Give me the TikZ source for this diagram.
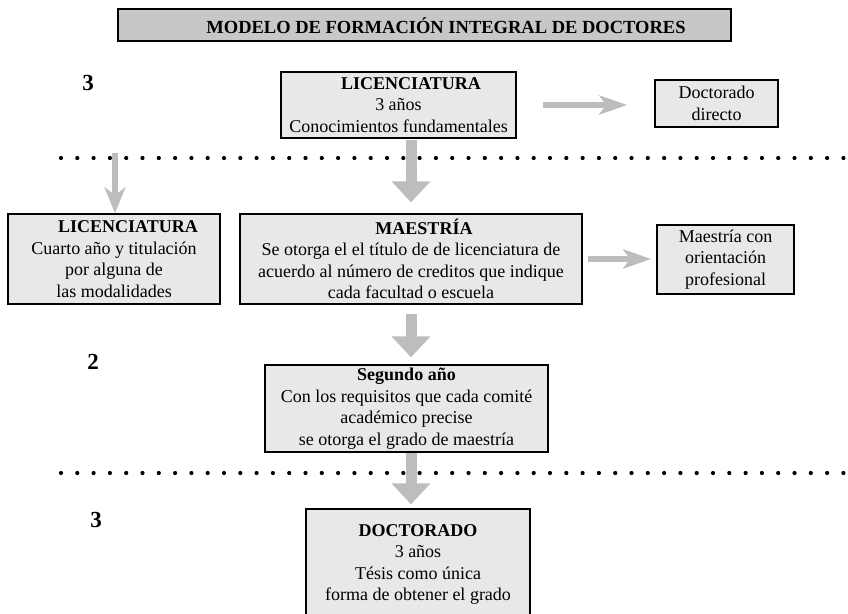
\documentclass[tikz,border=0pt]{standalone}
\usepackage{fontspec}
\setmainfont{Liberation Serif}
\usetikzlibrary{arrows.meta}
\definecolor{boxfill}{gray}{0.91}
\definecolor{titlefill}{gray}{0.78}
\definecolor{arrowgray}{gray}{0.74}
\tikzset{
  box/.style={draw=black, line width=1.5pt, fill=boxfill, align=center, inner sep=0pt,
    font=\fontsize{18}{21.5}\selectfont},
  titlebox/.style={draw=black, line width=1.6pt, fill=titlefill, inner sep=0pt},
  titletext/.style={font=\fontsize{18.5}{22}\selectfont\bfseries, inner sep=0pt},
  yearlabel/.style={font=\fontsize{23}{26}\selectfont\bfseries, inner sep=0pt},
  bigarrow/.style={draw=arrowgray, line width=11pt, -{Triangle[width=38pt,length=21pt]}},
  sidearrow/.style={draw=arrowgray, line width=6.5pt, -{Stealth[width=19pt,length=28pt,inset=7pt]}},
  droparrow/.style={draw=arrowgray, line width=6.5pt, -{Stealth[width=21pt,length=26pt,inset=8pt]}},
  dot/.style={fill=black}
}
\begin{document}
\begin{tikzpicture}[x=1pt, y=-1pt]
\useasboundingbox (0,0) rectangle (848,613);

% title
\node[titlebox, minimum width=613pt, minimum height=32pt] (title) at (424.5,25) {};
\node[titletext] (titlet) at (446,25.5) {MODELO DE FORMACIÓN INTEGRAL DE DOCTORES};

% year labels
\node[yearlabel] (y1) at (88,83) {3};
\node[yearlabel] (y2) at (93,362) {2};
\node[yearlabel] (y3) at (96,520) {3};

% dotted separators
\foreach \i in {0,...,48} {
  \fill[dot] (61+16.3*\i,158) circle (2.1);
  \fill[dot] (61+16.3*\i,473) circle (2.1);
}

% boxes
\node[box, minimum width=235pt, minimum height=66pt] (toplic) at (398.5,105)
  {\hspace*{25pt}\textbf{LICENCIATURA}\\3 años\\Conocimientos fundamentales};
\node[box, minimum width=123pt, minimum height=47pt] (dd) at (716.5,103.5)
  {Doctorado\\directo};
\node[box, minimum width=212pt, minimum height=90pt] (leftlic) at (114,259)
  {\hspace*{28pt}\textbf{LICENCIATURA}\\Cuarto año y titulación\\por alguna de\\las modalidades};
\node[box, minimum width=342pt, minimum height=90pt] (maestria) at (411,259)
  {\hspace*{26pt}\textbf{MAESTRÍA}\\Se otorga el el título de de licenciatura de\\acuerdo al número de creditos que indique\\cada facultad o escuela};
\node[box, minimum width=137pt, minimum height=69pt] (mcon) at (725.5,259.5)
  {Maestría con\\orientación\\profesional};
\node[box, minimum width=283pt, minimum height=87pt] (segundo) at (406.5,408.5)
  {\textbf{Segundo año}\\Con los requisitos que cada comité\\académico precise\\se otorga el grado de maestría};
\node[box, minimum width=224pt, minimum height=111pt] (doct) at (418,564.5)
  {\textbf{DOCTORADO}\\3 años\\Tésis como única\\forma de obtener el grado};

% connectors
\coordinate (dropstart) at (115,153);
\draw[droparrow] (dropstart) -- (dropstart |- leftlic.north);
\draw[bigarrow, shorten <=1pt, shorten >=11pt] (toplic.south -| maestria.north) -- (maestria.north);
\draw[bigarrow, shorten <=9pt, shorten >=7pt] (maestria.south) -- (maestria.south |- segundo.north);
\draw[bigarrow, shorten <=0pt, shorten >=4pt] (maestria.south |- segundo.south) -- (maestria.south |- doct.north);
\draw[sidearrow, shorten <=26pt, shorten >=27pt] (toplic.east) -- (toplic.east -| dd.west);
\draw[sidearrow, shorten <=5pt, shorten >=5pt] (maestria.east) -- (maestria.east -| mcon.west);
\end{tikzpicture}
\end{document}
